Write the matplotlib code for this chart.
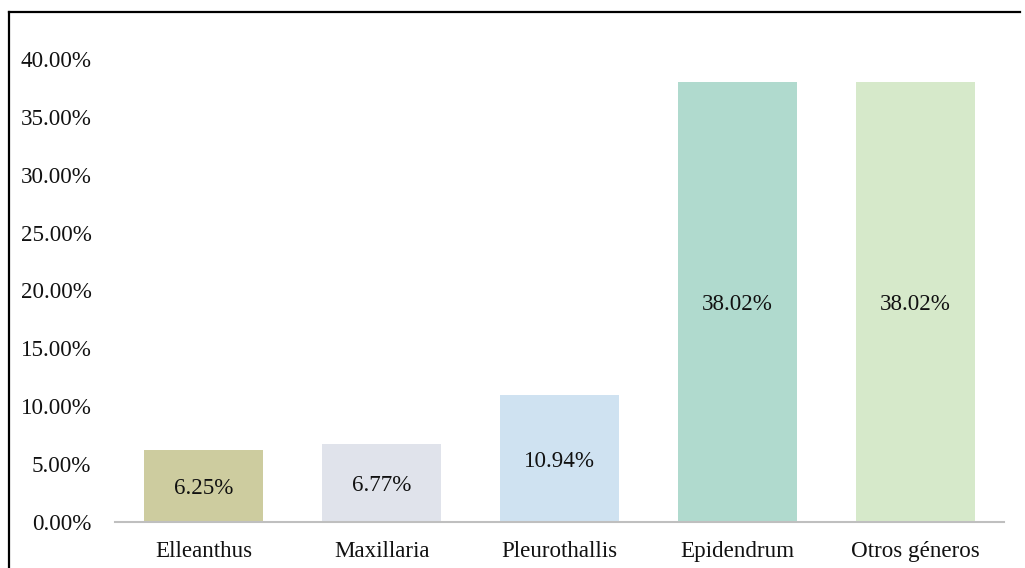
import matplotlib
matplotlib.use("Agg")
import matplotlib.pyplot as plt
from matplotlib.lines import Line2D

categories = ["Elleanthus", "Maxillaria", "Pleurothallis", "Epidendrum", "Otros géneros"]
values = [6.25, 6.77, 10.94, 38.02, 38.02]
colors = ["#CDCC9F", "#E0E3EB", "#CFE2F1", "#B0DACE", "#D6E9CA"]
yticks = [0, 5, 10, 15, 20, 25, 30, 35, 40]

plt.rcParams['font.family'] = ['Liberation Serif', 'DejaVu Serif']

W, H = 1025, 568
FS = 16.6
fig = plt.figure(figsize=(W/100, H/100), dpi=100)
ax = fig.add_axes([115/W, 1-522/H, (1004-115)/W, (522-59)/H])

x = list(range(len(categories)))
bars = ax.bar(x, values, width=0.67, color=colors)
for xi, v in zip(x, values):
    ax.annotate(f"{v:.2f}%", (xi, v/2), xytext=(0, -3), textcoords='offset pixels',
                ha='center', va='center', fontsize=FS, color='#111111')

ax.set_xlim(-0.5, len(categories)-0.5)
ax.set_ylim(0, 40)
ax.set_yticks(yticks)
ax.set_yticklabels([f"{v:.2f}%" for v in yticks])
ax.set_xticks(x)
ax.set_xticklabels(categories)
ax.tick_params(axis='both', length=0, labelsize=FS, colors='#111111')
ax.tick_params(axis='y', pad=17)
ax.tick_params(axis='x', pad=13.5)
for s in ['top', 'right', 'left']:
    ax.spines[s].set_visible(False)
ax.spines['bottom'].set_color('#BFBFBF')
ax.spines['bottom'].set_linewidth(1.5)

# outer frame (top and left visible)
fig.add_artist(Line2D([9/W, 1020/W], [1-12/H, 1-12/H], color='black', lw=1.6, transform=fig.transFigure))
fig.add_artist(Line2D([9/W, 9/W], [1-12/H, 0], color='black', lw=1.6, transform=fig.transFigure))

fig.savefig("out.png", dpi=100)
